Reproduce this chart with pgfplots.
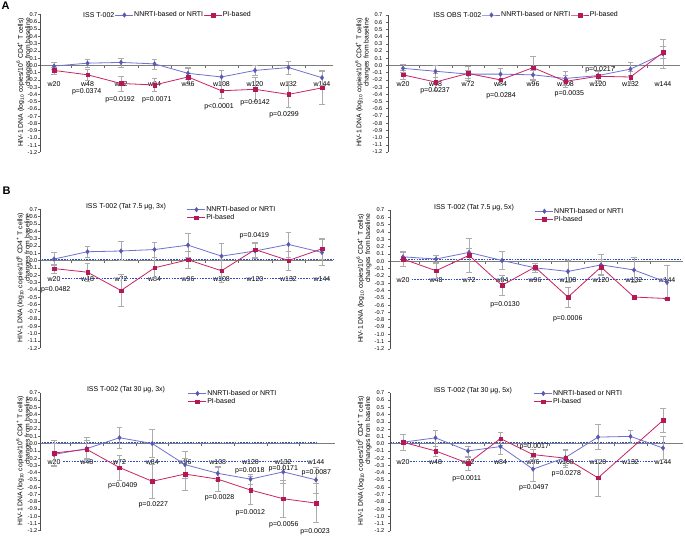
\documentclass[border=0pt]{standalone}
\usepackage{fontspec}
\setmainfont{Liberation Sans}
\usepackage{pgfplots}
\pgfplotsset{compat=1.18}
\definecolor{nnrti}{RGB}{112,112,205}
\definecolor{nnrtimk}{RGB}{88,88,180}
\definecolor{pibased}{RGB}{200,35,100}
\definecolor{pimk}{RGB}{180,25,85}
\definecolor{errgray}{RGB}{172,172,172}
\definecolor{refblue}{RGB}{40,80,195}
\definecolor{axgray}{RGB}{125,125,125}
\newcommand{\ylab}{HIV-1 DNA (log\textsubscript{10} copies/10\textsuperscript{6} CD4\textsuperscript{+} T cells)\\changes from baseline}
\pgfplotsset{
  panel/.style={
    scale only axis, clip=false,
    axis x line=middle, axis y line=left,
    axis line style={-},
    x axis line style={axgray, line width=1.2pt},
    y axis line style={black!70, line width=0.5pt},
    hide obscured x ticks=false, hide obscured y ticks=false,
    ymin=-1.2, ymax=0.7,
    ytick={-1.2,-1.1,-1,-0.9,-0.8,-0.7,-0.6,-0.5,-0.4,-0.3,-0.2,-0.1,0,0.1,0.2,0.3,0.4,0.5,0.6,0.7},
    /pgf/number format/assume math mode=true,
    yticklabel={\pgfmathprintnumber[fixed,fixed zerofill,precision=1]{\tick}},
    yticklabel style={font=\fontsize{5.6}{6}\selectfont, inner sep=0.5pt},
    xtick={0,...,8},
    xticklabels={w20,w48,w72,w84,w96,w108,w120,w132,w144},
    xticklabel style={font=\fontsize{7}{7}\selectfont, anchor=center, yshift=-16.5pt},
    minor x tick num=1,
    tick align=outside,
    major tick length=2pt, minor tick length=2.5pt,
    major x tick style={draw=none},
    tick style={black!60, line width=0.5pt},
    legend cell align=left,
    legend image code/.code={\draw[mark repeat=2,mark phase=2] plot coordinates {(0pt,0pt)(9pt,0pt)(18pt,0pt)};},
    legend style={draw=none, fill=none, inner sep=0pt, outer sep=0pt,
      font=\fontsize{7}{7}\selectfont,
      nodes={inner sep=0.4pt, text height=5pt, text depth=1.4pt},
      row sep=0.9pt, column sep=0pt, anchor=west},
  },
  nn/.style={color=nnrti, line width=0.8pt, mark=diamond*, mark size=2.3pt,
    mark options={fill=nnrtimk, draw=nnrtimk, line width=0.4pt},
    error bars/.cd, y dir=both, y explicit,
    error bar style={errgray, line width=0.5pt},
    error mark options={errgray, rotate=90, mark size=2.8pt, line width=0.5pt}},
  pi/.style={color=pibased, line width=0.8pt, mark=square*, mark size=1.8pt,
    mark options={fill=pimk, draw=pimk, line width=0.4pt},
    error bars/.cd, y dir=both, y explicit,
    error bar style={errgray, line width=0.5pt},
    error mark options={errgray, rotate=90, mark size=2.8pt, line width=0.5pt}},
  ref/.style={refblue, line width=0.8pt, dash pattern=on 1.6pt off 1.2pt, forget plot, no marks},
}
\begin{document}
\begin{tikzpicture}
\useasboundingbox (0,0) rectangle (685pt,536pt);

% ---- A left
\begin{axis}[panel, at={(40pt,383.5pt)}, anchor=south west, width=293pt, height=138pt,
  xmin=-0.418, xmax=8.328, legend columns=-1, legend style={at={(0.256,0.996)}}]
\addplot+[nn] coordinates {(0,-0.01) +- (0,0.05) (1,0.03) +- (0,0.06) (2,0.04) +- (0,0.06) (3,0.02) +- (0,0.07) (4,-0.11) +- (0,0.08) (5,-0.16) +- (0,0.09) (6,-0.07) +- (0,0.07) (7,-0.03) +- (0,0.09) (8,-0.17) +- (0,0.10)};
\addlegendentry{NNRTI-based or NRTI}
\addplot+[pi] coordinates {(0,-0.07) +- (0,0.05) (1,-0.13) +- (0,0.08) (2,-0.25) +- (0,0.10) (3,-0.27) +- (0,0.09) (4,-0.16) +- (0,0.12) (5,-0.35) +- (0,0.10) (6,-0.33) +- (0,0.17) (7,-0.40) +- (0,0.18) (8,-0.31) +- (0,0.23)};
\addlegendentry{PI-based}
\end{axis}

% ---- A right
\begin{axis}[panel, at={(388pt,384pt)}, anchor=south west, width=292pt, height=137pt,
  xmin=-0.4615, xmax=8.523, legend columns=-1, legend style={at={(0.322,1.0)}},
  yticklabel style={xshift=-3pt}]
\addplot+[nn] coordinates {(0,-0.04) +- (0,0.06) (1,-0.08) +- (0,0.08) (2,-0.12) +- (0,0.06) (3,-0.12) +- (0,0.08) (4,-0.13) +- (0,0.07) (5,-0.18) +- (0,0.10) (6,-0.14) +- (0,0.06) (7,-0.05) +- (0,0.09) (8,0.16) +- (0,0.20)};
\addlegendentry{NNRTI-based or NRTI}
\addplot+[pi] coordinates {(0,-0.13) +- (0,0.06) (1,-0.23) +- (0,0.12) (2,-0.11) +- (0,0.10) (3,-0.20) +- (0,0.08) (4,-0.03) +- (0,0.16) (5,-0.22) +- (0,0.08) (6,-0.15) +- (0,0.09) (7,-0.16) +- (0,0.08) (8,0.18) +- (0,0.08)};
\addlegendentry{PI-based}
\end{axis}

% ---- B left
\begin{axis}[panel, at={(40pt,187.7pt)}, anchor=south west, width=293pt, height=139pt,
  xmin=-0.418, xmax=8.328, legend style={at={(0.502,0.968)}}]
\addplot[ref] coordinates {(-0.37,0.02) (8.33,0.02)};
\addplot[ref] coordinates {(0.25,-0.24) (8.2,-0.24)};
\addplot+[nn] coordinates {(0,0.02) +- (0,0.09) (1,0.12) +- (0,0.08) (2,0.13) +- (0,0.13) (3,0.15) +- (0,0.10) (4,0.21) +- (0,0.16) (5,0.06) +- (0,0.18) (6,0.13) +- (0,0.10) (7,0.22) +- (0,0.17) (8,0.11) +- (0,0.18)};
\addlegendentry{NNRTI-based or NRTI}
\addplot+[pi] coordinates {(0,-0.11) +- (0,0.06) (1,-0.16) +- (0,0.12) (2,-0.41) +- (0,0.22) (3,-0.10) +- (0,0.14) (4,0.01) +- (0,0.11) (5,-0.14) +- (0,0.16) (6,0.15) +- (0,0.10) (7,0.00) +- (0,0.13) (8,0.16) +- (0,0.14)};
\addlegendentry{PI-based}
\end{axis}

% ---- B right
\begin{axis}[panel, at={(390pt,187pt)}, anchor=south west, width=293pt, height=139pt,
  xmin=-0.394, xmax=8.485, legend style={at={(0.495,0.962)}},
  yticklabel style={xshift=-3pt}]
\addplot[ref] coordinates {(-0.1,0.02) (8.4,0.02)};
\addplot[ref] coordinates {(0.26,-0.25) (8.03,-0.25)};
\addplot+[nn] coordinates {(0,0.06) +- (0,0.06) (1,0.03) +- (0,0.05) (2,0.12) +- (0,0.06) (3,0.01) +- (0,0.12) (4,-0.09) +- (0,0.06) (5,-0.14) +- (0,0.15) (6,-0.05) +- (0,0.14) (7,-0.12) +- (0,0.17) (8,-0.29) +- (0,0.23)};
\addlegendentry{NNRTI-based or NRTI}
\addplot[draw=none, no marks, forget plot, error bars/.cd, y dir=both, y explicit,
  error bar style={errgray, line width=0.5pt},
  error mark options={errgray, rotate=90, mark size=2.8pt, line width=0.5pt}]
  coordinates {(0,0.03) +- (0,0.10) (1,-0.13) +- (0,0.10) (2,0.08) +- (0,0.23) (3,-0.33) +- (0,0.14) (4,-0.08) +- (0,0.05) (5,-0.49) +- (0,0.14) (6,-0.08) +- (0,0.10)};
\addplot+[pi] coordinates {(0,0.03) (1,-0.13) (2,0.08) (3,-0.33) (4,-0.08) (5,-0.49) (6,-0.08) (7,-0.49) (8,-0.51)};
\addlegendentry{PI-based}
\end{axis}

% ---- C left
\begin{axis}[panel, at={(40pt,5.3pt)}, anchor=south west, width=295pt, height=138pt,
  xmin=-0.427, xmax=8.58, legend style={at={(0.502,0.965)}}]
\addplot[ref] coordinates {(-0.38,0.02) (8.02,0.02)};
\addplot[ref] coordinates {(0.28,-0.24) (7.87,-0.24)};
\addplot+[nn] coordinates {(0,-0.15) +- (0,0.15) (1,-0.07) +- (0,0.15) (2,0.08) +- (0,0.14) (3,0.00) +- (0,0.19) (4,-0.29) +- (0,0.19) (5,-0.41) +- (0,0.10) (6,-0.49) +- (0,0.07) (7,-0.39) +- (0,0.15) (8,-0.50) +- (0,0.18)};
\addlegendentry{NNRTI-based or NRTI}
\addplot+[pi] coordinates {(0,-0.13) +- (0,0.18) (1,-0.08) +- (0,0.12) (2,-0.33) +- (0,0.17) (3,-0.52) +- (0,0.23) (4,-0.42) +- (0,0.22) (5,-0.49) +- (0,0.17) (6,-0.64) +- (0,0.19) (7,-0.76) +- (0,0.26) (8,-0.82) +- (0,0.27)};
\addlegendentry{PI-based}
\end{axis}

% ---- C right
\begin{axis}[panel, at={(390pt,5pt)}, anchor=south west, width=293pt, height=138.3pt,
  xmin=-0.4, xmax=8.615, legend style={at={(0.491,0.965)}},
  yticklabel style={xshift=-3pt}]
\addplot[ref] coordinates {(-0.4,0.02) (8.06,0.02)};
\addplot[ref] coordinates {(0.22,-0.24) (7.8,-0.24)};
\addplot+[nn] coordinates {(0,0.02) +- (0,0.11) (1,0.08) +- (0,0.11) (2,-0.10) +- (0,0.07) (3,-0.04) +- (0,0.10) (4,-0.35) +- (0,0.17) (5,-0.19) +- (0,0.10) (6,0.09) +- (0,0.17) (7,0.10) +- (0,0.09) (8,-0.06) +- (0,0.16)};
\addlegendentry{NNRTI-based or NRTI}
\addplot+[pi] coordinates {(0,0.02) +- (0,0.11) (1,-0.10) +- (0,0.07) (2,-0.27) +- (0,0.09) (3,0.07) +- (0,0.09) (4,-0.15) +- (0,0.07) (5,-0.20) +- (0,0.12) (6,-0.47) +- (0,0.25) (8,0.32) +- (0,0.17)};
\addlegendentry{PI-based}
\end{axis}

% ---- titles, panel letters, y labels
\begin{scope}[every node/.style={font=\fontsize{7}{7}\selectfont, inner sep=0pt}]
\node[anchor=east] at (114.5pt,521pt) {ISS T-002};
\node[anchor=east] at (481.5pt,521pt) {ISS OBS T-002};
\node at (126pt,329pt) {ISS T-002 (Tat 7.5 μg, 3x)};
\node at (474pt,328pt) {ISS T-002 (Tat 7.5 μg, 5x)};
\node at (126pt,146pt) {ISS T-002 (Tat 30 μg, 3x)};
\node at (473pt,145.3pt) {ISS T-002 (Tat 30 μg, 5x)};
% p values
\node at (86.7pt,444.3pt) {p=0.0374};
\node at (120pt,436pt) {p=0.0192};
\node at (156.7pt,436pt) {p=0.0071};
\node at (219pt,429pt) {p<0.0001};
\node at (255pt,433pt) {p=0.0142};
\node at (284pt,421pt) {p=0.0299};
\node at (435pt,445.3pt) {p=0.0237};
\node at (501pt,440pt) {p=0.0284};
\node at (569.3pt,442.7pt) {p=0.0035};
\node at (600pt,466pt) {p=0.0217};
\node at (55.7pt,246pt) {p=0.0482};
\node at (254.3pt,300pt) {p=0.0419};
\node at (505pt,231.7pt) {p=0.0130};
\node at (567.7pt,217pt) {p=0.0006};
\node at (122.7pt,50pt) {p=0.0409};
\node at (153.3pt,31.7pt) {p=0.0227};
\node at (219.5pt,38pt) {p=0.0028};
\node at (250.3pt,23.3pt) {p=0.0012};
\node at (283.8pt,11.7pt) {p=0.0056};
\node at (315pt,4.3pt) {p=0.0023};
\node at (249.7pt,65.5pt) {p=0.0018};
\node at (283.3pt,67.3pt) {p=0.0171};
\node at (316.3pt,63.3pt) {p=0.0087};
\node at (534.2pt,89.3pt) {p=0.0017};
\node at (466.7pt,57.7pt) {p=0.0011};
\node at (533.7pt,48.7pt) {p=0.0497};
\node at (566.3pt,62.7pt) {p=0.0278};
\end{scope}
\node[font=\fontsize{11}{11}\selectfont\bfseries, inner sep=0pt] at (5.5pt,530.5pt) {A};
\node[font=\fontsize{11}{11}\selectfont\bfseries, inner sep=0pt] at (6.5pt,345pt) {B};
\begin{scope}[every node/.style={rotate=90, align=right, inner sep=0pt, font=\fontsize{6.8}{6.3}\selectfont}]
\node at (24pt,453.5pt) {\ylab};
\node at (362.5pt,453.5pt) {\ylab};
\node at (23.5pt,258.2pt) {\ylab};
\node at (364pt,257.5pt) {\ylab};
\node at (23.5pt,75.3pt) {\ylab};
\node at (364pt,75.2pt) {\ylab};
\end{scope}
\end{tikzpicture}
\end{document}
